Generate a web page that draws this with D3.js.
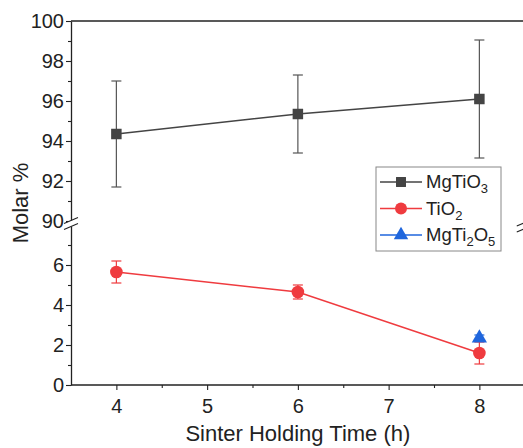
<!DOCTYPE html>
<html>
<head>
<meta charset="utf-8">
<script src="https://cdn.jsdelivr.net/npm/d3@7"></script>
<style>
  html, body { margin: 0; background: #fff; overflow: hidden; }
  svg { display: block; }
  text { font-family: "Liberation Sans", Arial, sans-serif; }
</style>
</head>
<body>
<div id="chart"></div>
<script>
const width = 523;
const height = 448;

// data
const hours = [4, 6, 8];
const mgtio3 = [94.35, 95.35, 96.1];
const mgtio3Err = [2.65, 1.95, 2.95];
const tio2 = [5.65, 4.65, 1.6];
const tio2Err = [0.55, 0.35, 0.55];
const mgti2o5Hours = [8];
const mgti2o5 = [2.35];
const mgti2o5Err = [0.15];

const xTicks = [4, 5, 6, 7, 8];
const upperTicks = [90, 92, 94, 96, 98, 100];
const lowerTicks = [0, 2, 4, 6];

const padLeft = 71, padTop = 21;

const svg = d3.select("#chart").append("svg")
    .attr("width", width)
    .attr("height", height);

const x = d3.scaleLinear().domain([3.5, 8.5]).range([padLeft, padLeft + 453.75]);
const yUp = d3.scaleLinear().domain([90, 100]).range([221, padTop]);
const yLow = d3.scaleLinear().domain([0, 8]).range([385, 225]);

// left axis, upper part
const gUp = svg.append("g").attr("transform", `translate(${padLeft},0)`)
    .call(d3.axisLeft(yUp).tickValues(upperTicks).tickSize(5).tickSizeOuter(0));
svg.append("g").attr("transform", `translate(${padLeft},0)`)
    .call(d3.axisLeft(yUp).tickValues([91, 93, 95, 97, 99]).tickSize(3).tickFormat(""))
    .select(".domain").remove();

// left axis, lower part
const gLow = svg.append("g").attr("transform", `translate(${padLeft},0)`)
    .call(d3.axisLeft(yLow).tickValues(lowerTicks).tickSize(5).tickSizeOuter(0));
svg.append("g").attr("transform", `translate(${padLeft},0)`)
    .call(d3.axisLeft(yLow).tickValues([1, 3, 5, 7]).tickSize(3).tickFormat(""))
    .select(".domain").remove();

// x axis (domain line drawn by hand below)
const gx = svg.append("g").attr("transform", "translate(0,385)")
    .call(d3.axisBottom(x).tickValues(xTicks).tickSize(5).tickSizeOuter(0).tickFormat(d3.format("d")));
gx.select(".domain").remove();
svg.append("g").attr("transform", "translate(0,385)")
    .call(d3.axisBottom(x).tickValues([4.5, 5.5, 6.5, 7.5]).tickSize(3).tickFormat(""))
    .select(".domain").remove();

svg.selectAll(".domain").attr("stroke", "#222").attr("stroke-width", 1.3);
svg.selectAll(".tick line").attr("stroke", "#222").attr("stroke-width", 1.1);
svg.selectAll(".tick text").attr("font-size", 20).attr("fill", "#222")
    .attr("font-family", "Liberation Sans, Arial, sans-serif");
gx.selectAll(".tick text").attr("dy", "1.0em");
gUp.selectAll(".tick text").attr("x", -7);
gLow.selectAll(".tick text").attr("x", -7);

// keep the right edge clean, then frame lines
svg.append("rect").attr("x", 505).attr("y", 0).attr("width", 18).attr("height", 448).attr("fill", "#fff");
[padTop, yLow(0)].forEach(yy => {
    svg.append("line").attr("x1", padLeft).attr("x2", width).attr("y1", yy).attr("y2", yy)
        .attr("stroke", "#222").attr("stroke-width", 1.3);
});

// axis breaks
function breakMark(cx, cy) {
    svg.append("rect").attr("x", cx - 3).attr("y", cy - 3).attr("width", 6).attr("height", 6).attr("fill", "#fff");
    [-3, 3].forEach(o => {
        svg.append("line")
            .attr("x1", cx - 7).attr("y1", cy + o + 3)
            .attr("x2", cx + 7).attr("y2", cy + o - 3)
            .attr("stroke", "#222").attr("stroke-width", 1.1);
    });
}
breakMark(padLeft, 223.5);
breakMark(x(8.5) - 1, 226);

// axis titles
svg.append("text").attr("x", x(6)).attr("y", 441)
    .attr("text-anchor", "middle").attr("font-size", 22).attr("fill", "#222")
    .text("Sinter Holding Time (h)");
svg.append("text").attr("transform", "translate(28,203) rotate(-90)")
    .attr("text-anchor", "middle").attr("font-size", 22).attr("fill", "#222")
    .text("Molar %");

const series = [
    { name: "MgTiO3", xs: hours, ys: mgtio3, err: mgtio3Err, y: yUp, color: "#444444", errColor: "#555", shape: d3.symbolSquare, size: 110 },
    { name: "TiO2", xs: hours, ys: tio2, err: tio2Err, y: yLow, color: "#ef3b3f", errColor: "#ef3b3f", shape: d3.symbolCircle, size: 125 },
    { name: "MgTi2O5", xs: mgti2o5Hours, ys: mgti2o5, err: mgti2o5Err, y: yLow, color: "#1f66dd", errColor: "#1f66dd", shape: d3.symbolTriangle, size: 100 }
];

series.forEach(s => {
    const pts = s.xs.map((h, i) => ({ h: h, v: s.ys[i], e: s.err[i] }));
    const g = svg.append("g");
    g.append("path").datum(pts)
        .attr("fill", "none").attr("stroke", s.color).attr("stroke-width", 1.5)
        .attr("d", d3.line().x(d => x(d.h)).y(d => s.y(d.v)));
    const eb = g.selectAll(".err").data(pts).enter().append("g").attr("stroke", s.errColor).attr("stroke-width", 1.2);
    eb.append("line").attr("x1", d => x(d.h)).attr("x2", d => x(d.h))
        .attr("y1", d => s.y(d.v - d.e)).attr("y2", d => s.y(d.v + d.e));
    eb.append("line").attr("x1", d => x(d.h) - 5).attr("x2", d => x(d.h) + 5)
        .attr("y1", d => s.y(d.v - d.e)).attr("y2", d => s.y(d.v - d.e));
    eb.append("line").attr("x1", d => x(d.h) - 5).attr("x2", d => x(d.h) + 5)
        .attr("y1", d => s.y(d.v + d.e)).attr("y2", d => s.y(d.v + d.e));
    g.selectAll(".pt").data(pts).enter().append("path")
        .attr("transform", d => `translate(${x(d.h)},${s.y(d.v)})`)
        .attr("d", d3.symbol().type(s.shape).size(s.size))
        .attr("fill", s.color);
});

// legend
const lg = svg.append("g").attr("transform", "translate(376,167)");
lg.append("rect").attr("width", 125).attr("height", 84)
    .attr("fill", "#fff").attr("stroke", "#888").attr("stroke-width", 1);
const labels = [
    ["MgTiO", "3"],
    ["TiO", "2"],
    ["MgTi", "2", "O", "5"]
];
series.forEach((s, i) => {
    const yy = 15 + i * 26.5;
    lg.append("line").attr("x1", 4).attr("x2", 46).attr("y1", yy).attr("y2", yy)
        .attr("stroke", s.color).attr("stroke-width", 1.5);
    lg.append("path").attr("transform", `translate(25,${yy})`)
        .attr("d", d3.symbol().type(s.shape).size(s.size * 0.9)).attr("fill", s.color);
    const t = lg.append("text").attr("x", 50).attr("y", yy + 6)
        .attr("font-size", 18.5).attr("fill", "#222");
    labels[i].forEach((part, j) => {
        const sub = j % 2 === 1;
        t.append("tspan").text(part)
            .attr("font-size", sub ? 13 : 18.5)
            .attr("dy", sub ? 5 : (j > 0 ? -5 : 0));
    });
});
</script>
</body>
</html>
